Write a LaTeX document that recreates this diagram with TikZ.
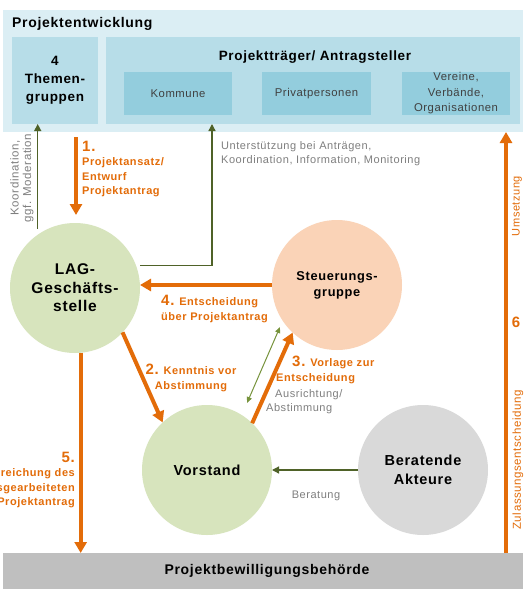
\documentclass[tikz,border=0pt]{standalone}
\usepackage{fontspec}
\setmainfont{Liberation Sans}[LetterSpace=5]
\usetikzlibrary{arrows.meta,calc}
\definecolor{bandblue}{HTML}{DBEEF4}
\definecolor{boxblue}{HTML}{B7DDE8}
\definecolor{innerblue}{HTML}{93CDDD}
\definecolor{orng}{HTML}{E36C09}
\definecolor{olive}{HTML}{4F6228}
\definecolor{lightolive}{HTML}{77933C}
\definecolor{lagfill}{HTML}{D7E4BD}
\definecolor{steufill}{HTML}{FAD3B7}
\definecolor{berfill}{HTML}{D9D9D9}
\definecolor{bottomgray}{HTML}{BFBFBF}
\definecolor{txtgray}{HTML}{7F7F7F}
\newcommand{\myfs}[2]{\fontsize{#1}{#2}\selectfont}
\newcommand{\numf}{\bfseries\myfs{15}{18}}
\begin{document}
\begin{tikzpicture}[x=1pt,y=-1pt,
  rectbox/.style={anchor=north west,inner sep=0pt,outer sep=0pt,draw=none},
  headtxt/.style={font=\bfseries\myfs{13.5}{18}, text=black, align=center, inner sep=0pt},
  innertxt/.style={font=\myfs{11.3}{15}, text=black!75, align=center},
  circnode/.style={circle, minimum size=130pt, inner sep=0pt, outer sep=0pt, align=center, font=\bfseries\myfs{14.5}{18.5}},
  olbl/.style={text=orng, font=\bfseries\myfs{11}{14.5}, inner sep=0pt},
  glbl/.style={text=txtgray, font=\myfs{11}{14}, inner sep=0pt},
  orangearrow/.style={draw=orng, line width=4pt, -{Triangle[length=11pt,width=12pt]}},
  greenarrow/.style={draw=olive, line width=1.3pt, -{Triangle[length=7pt,width=7pt]}},
  dblarrow/.style={draw=lightolive, line width=1pt, {Triangle[length=6pt,width=5pt]}-{Triangle[length=6pt,width=5pt]}}
]
\useasboundingbox (0,0) rectangle (523,589);
\fill[white] (0,0) rectangle (523,589);

% top band
\node[rectbox, fill=bandblue, minimum width=520pt, minimum height=122pt] (pe) at (3,10) {};
\node[anchor=west, font=\bfseries\myfs{14}{17}, inner sep=0pt] (pet) at (12,24) {Projektentwicklung};
\node[rectbox, fill=boxblue, minimum width=86pt, minimum height=87pt, headtxt] (tg) at (12,37) {4\\Themen-\\gruppen};
\node[rectbox, fill=boxblue, minimum width=414pt, minimum height=87pt] (pt) at (106,37) {};
\node[headtxt] (ptt) at (315,57) {Projektträger/ Antragsteller};
\node[rectbox, fill=innerblue, minimum width=108pt, minimum height=43pt, innertxt] (kom) at (124,72) {Kommune};
\node[rectbox, fill=innerblue, minimum width=109pt, minimum height=43pt, innertxt] (priv) at (262,72) {Privatpersonen};
\node[rectbox, fill=innerblue, minimum width=108pt, minimum height=43pt, innertxt, font=\myfs{11.3}{15.5}] (ver) at (402,72) {Vereine,\\Verbände,\\Organisationen};

% bottom band
\node[rectbox, fill=bottomgray, minimum width=520pt, minimum height=36pt, font=\bfseries\myfs{14}{17}] (pb) at (3,553) {\hspace*{8pt}Projektbewilligungsbehörde};

% circles
\node[circnode, fill=lagfill, font=\bfseries\myfs{15.5}{18.5}] (lag) at (75,288) {LAG-\\Geschäfts-\\stelle};
\node[circnode, fill=steufill, font=\bfseries\myfs{12.8}{16}] (steu) at (337,285) {Steuerungs-\\gruppe};
\node[circnode, fill=lagfill] (vor) at (207,470) {Vorstand};
\node[circnode, fill=berfill] (ber) at (423,470) {Beratende\\Akteure};

% helper coordinates
\coordinate (x6) at (506,0);
\coordinate (xsup) at (212,0);

% green connectors
\draw[greenarrow, shorten <=6pt] (lag.125) -- (lag.125 |- tg.south);
\draw[greenarrow, shorten <=4pt] (lag.20) -| (xsup |- pt.south);
\draw[greenarrow] (ber.west) -- (ber.west -| vor.east);
\draw[dblarrow] ($(vor.center)+(40,-67)$) -- ($(steu.center)+(-57,42)$);

% orange connectors
\draw[orangearrow] ($(pe.south -| lag.north)+(1,5)$) -- ($(lag.north)+(1,-8)$);
\draw[orangearrow] (steu.west) -- (steu.west -| lag.east);
\draw[orangearrow] (lag.-43) -- (vor.133);
\draw[orangearrow] (vor.46) -- (steu.-133);
\draw[orangearrow] (lag.-85) -- (lag.-85 |- pb.north);
\draw[orangearrow] (pb.north -| x6) -- (pe.south -| x6);

% labels
\node[glbl, rotate=90, align=center, font=\myfs{11.5}{12.5}] (lkoord) at (22,178) {Koordination,\\ggf. Moderation};
\node[olbl, anchor=west, align=left] (l1) at (82,169) {{\numf 1.}\\Projektansatz/\\Entwurf\\Projektantrag};
\node[glbl, anchor=west, align=left] (lsup) at (221,154) {Unterstützung bei Anträgen,\\Koordination, Information, Monitoring};
\node[olbl, anchor=west, align=left] (l4) at (161,309) {{\numf 4.} Entscheidung\\über Projektantrag};
\node[olbl, align=center] (l2) at (191,378) {{\numf 2.} Kenntnis vor\\Abstimmung};
\node[olbl, anchor=west, align=left] (l3) at (276,370) {\hspace*{16pt}{\numf 3.} Vorlage zur\\Entscheidung};
\node[glbl, anchor=west, align=left] (l3b) at (266,402) {\hspace*{9pt}Ausrichtung/\\Abstimmung};
\node[glbl] (lber) at (316,496) {Beratung};
\begin{scope}
\clip (0,0) rectangle (523,589);
\node[olbl, anchor=east, align=right] (l5) at (75,480) {{\numf 5.}\\Einreichung des\\ausgearbeiteten\\Projektantrag};
\end{scope}
\node[text=orng, font=\myfs{11}{13}, rotate=90, inner sep=0pt] (lums) at (517,206) {Umsetzung};
\node[text=orng, font=\numf, inner sep=0pt] (l6) at (516,322) {6};
\node[text=orng, font=\myfs{11.5}{13}, rotate=90, inner sep=0pt] (lzul) at (518,460) {Zulassungsentscheidung};
\end{tikzpicture}
\end{document}
